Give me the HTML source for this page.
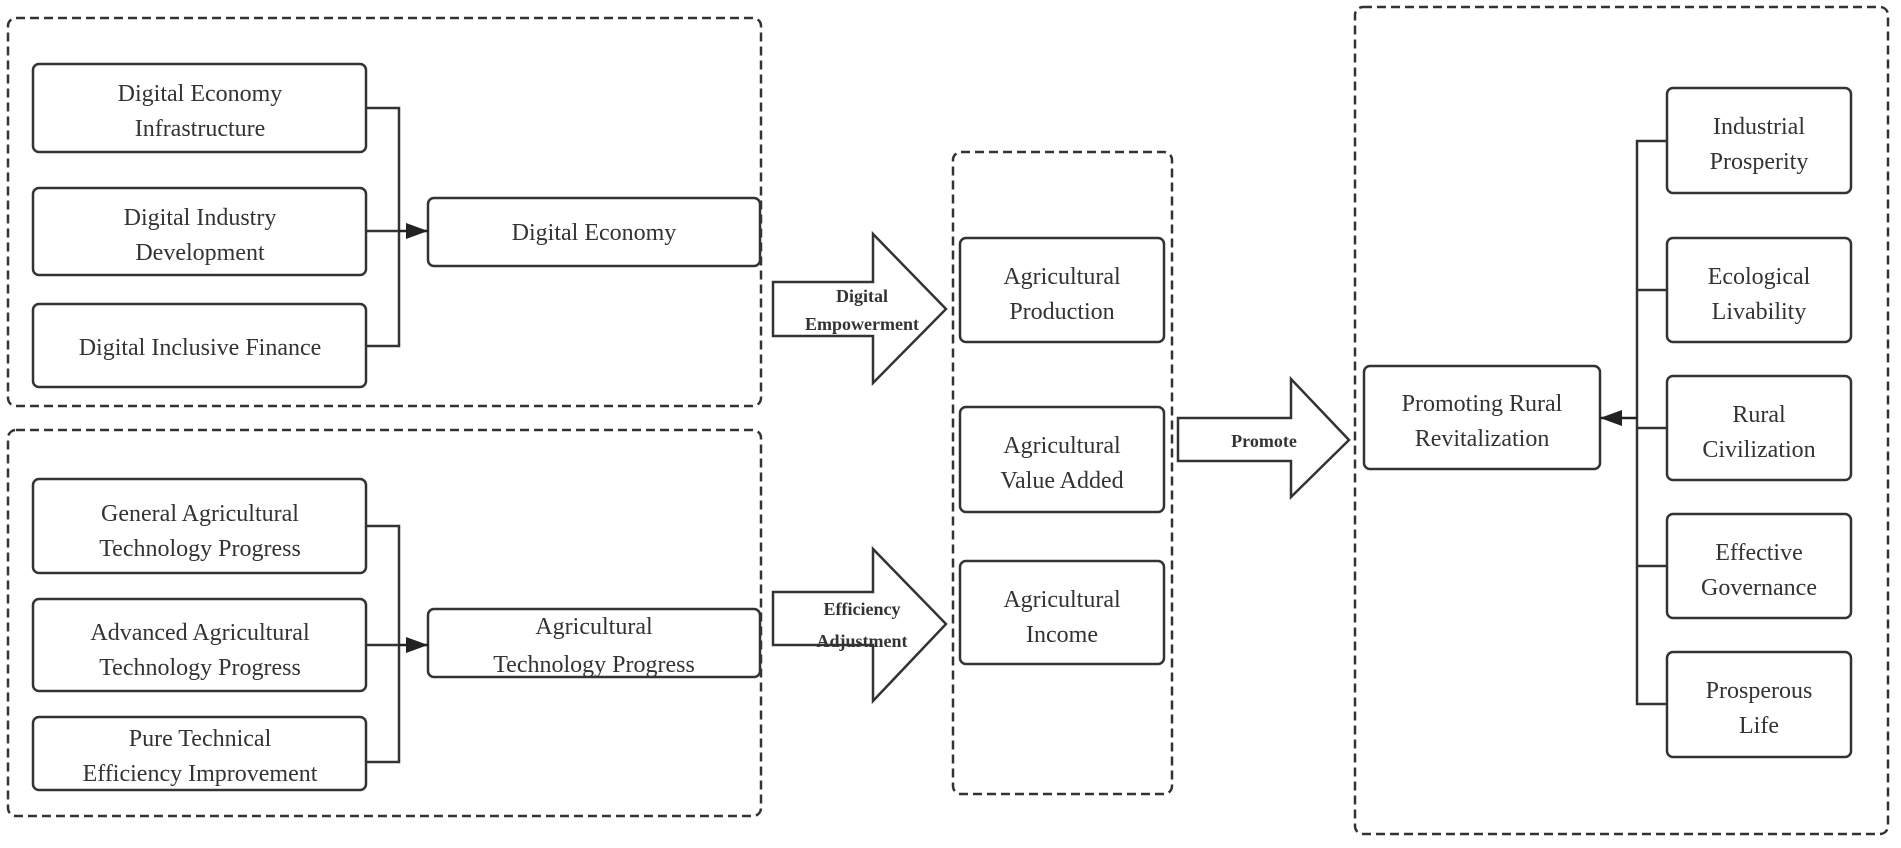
<!DOCTYPE html>
<html><head><meta charset="utf-8"><style>
body{margin:0;background:#fff;}
svg text{font-family:"Liberation Serif",serif;fill:#333;}
</style></head><body>
<svg width="1901" height="843" viewBox="0 0 1901 843" xmlns="http://www.w3.org/2000/svg">
<defs><marker id="ah" markerWidth="10" markerHeight="10" refX="9" refY="5" orient="auto" markerUnits="userSpaceOnUse"><path d="M0,0 L10,5 L0,10z" fill="#222"/></marker>
<marker id="ah2" viewBox="0 0 10 10" markerWidth="22" markerHeight="16" refX="10" refY="5" orient="auto" markerUnits="userSpaceOnUse" preserveAspectRatio="none"><path d="M0,0 L10,5 L0,10z" fill="#222"/></marker></defs>
<g fill="none" stroke="#333" stroke-width="2.5" stroke-dasharray="9,5">
<rect x="8" y="18" width="753" height="388" rx="8"/>
<rect x="8" y="430" width="753" height="386" rx="8"/>
<rect x="953" y="152" width="219" height="642" rx="8"/>
<rect x="1355" y="7" width="533" height="827" rx="8"/>
</g>
<g fill="#fff" stroke="#333" stroke-width="2.5">
<rect x="33" y="64" width="333" height="88" rx="6"/>
<rect x="33" y="188" width="333" height="87" rx="6"/>
<rect x="33" y="304" width="333" height="83" rx="6"/>
<rect x="428" y="198" width="332" height="68" rx="6"/>
<rect x="33" y="479" width="333" height="94" rx="6"/>
<rect x="33" y="599" width="333" height="92" rx="6"/>
<rect x="33" y="717" width="333" height="73" rx="6"/>
<rect x="428" y="609" width="332" height="68" rx="6"/>
<rect x="960" y="238" width="204" height="104" rx="6"/>
<rect x="960" y="407" width="204" height="105" rx="6"/>
<rect x="960" y="561" width="204" height="103" rx="6"/>
<rect x="1364" y="366" width="236" height="103" rx="6"/>
<rect x="1667" y="88" width="184" height="105" rx="6"/>
<rect x="1667" y="238" width="184" height="104" rx="6"/>
<rect x="1667" y="376" width="184" height="104" rx="6"/>
<rect x="1667" y="514" width="184" height="104" rx="6"/>
<rect x="1667" y="652" width="184" height="105" rx="6"/>
</g>
<g fill="none" stroke="#333" stroke-width="2.5">
<path d="M366,108 H399 V346 H366 M366,231 H399"/>
<path d="M366,526 H399 V762 H366 M366,645 H399"/>
<path d="M1667,141 H1637 V704 H1667 M1637,290 H1667 M1637,428 H1667 M1637,566 H1667"/>
</g>
<line x1="399" y1="231" x2="428" y2="231" stroke="#222" stroke-width="2.5" marker-end="url(#ah2)"/>
<line x1="399" y1="645" x2="428" y2="645" stroke="#222" stroke-width="2.5" marker-end="url(#ah2)"/>
<line x1="1637" y1="418" x2="1600" y2="418" stroke="#222" stroke-width="2.5" marker-end="url(#ah2)"/>
<g fill="#fff" stroke="#333" stroke-width="2.5">
<path d="M773,282 H873 V234 L946,309 L873,383 V336 H773z"/>
<path d="M773,592 H873 V549 L946,624 L873,701 V645 H773z"/>
<path d="M1178,418 H1291 V379 L1349,440 L1291,497 V461 H1178z"/>
</g>
<g font-size="24" text-anchor="middle">
<text x="200" y="101">Digital Economy</text><text x="200" y="136">Infrastructure</text>
<text x="200" y="225">Digital Industry</text><text x="200" y="260">Development</text>
<text x="200" y="355">Digital Inclusive Finance</text>
<text x="594" y="240">Digital Economy</text>
<text x="200" y="521">General Agricultural</text><text x="200" y="556">Technology Progress</text>
<text x="200" y="640">Advanced Agricultural</text><text x="200" y="675">Technology Progress</text>
<text x="200" y="746">Pure Technical</text><text x="200" y="781">Efficiency Improvement</text>
<text x="594" y="634">Agricultural</text><text x="594" y="672">Technology Progress</text>
<text x="1062" y="284">Agricultural</text><text x="1062" y="319">Production</text>
<text x="1062" y="453">Agricultural</text><text x="1062" y="488">Value Added</text>
<text x="1062" y="607">Agricultural</text><text x="1062" y="642">Income</text>
<text x="1482" y="411">Promoting Rural</text><text x="1482" y="446">Revitalization</text>
<text x="1759" y="134">Industrial</text><text x="1759" y="169">Prosperity</text>
<text x="1759" y="284">Ecological</text><text x="1759" y="319">Livability</text>
<text x="1759" y="422">Rural</text><text x="1759" y="457">Civilization</text>
<text x="1759" y="560">Effective</text><text x="1759" y="595">Governance</text>
<text x="1759" y="698">Prosperous</text><text x="1759" y="733">Life</text>
</g>
<g font-size="18" font-weight="bold" text-anchor="middle">
<text x="862" y="302">Digital</text><text x="862" y="330">Empowerment</text>
<text x="862" y="615">Efficiency</text><text x="862" y="647">Adjustment</text>
<text x="1264" y="447">Promote</text>
</g>
</svg>
</body></html>
